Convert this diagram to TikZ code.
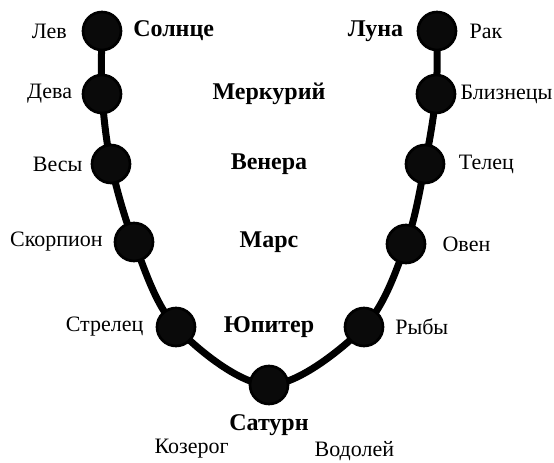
\documentclass[tikz,border=0pt]{standalone}
\usepackage{fontspec}
\setmainfont{Liberation Serif}
\usetikzlibrary{positioning, backgrounds}

\begin{document}
\begin{tikzpicture}[x=0.75pt, y=-0.75pt, font=\fontsize{16.5}{19}\selectfont,
    body/.style={circle, draw=black, line width=2pt, fill=black!96, minimum size=28.5pt, inner sep=0pt},
    sign/.style={inner sep=1pt},
    ruler/.style={inner sep=1pt, font=\fontsize{18}{21}\selectfont\bfseries}]
    \useasboundingbox (0,0) rectangle (554,463);

    % bodies along the chain
    \node[body] (lev) at (102,31) {};
    \node[body] (deva) at (102,94) {};
    \node[body] (vesy) at (111,164) {};
    \node[body] (skorp) at (134,242) {};
    \node[body] (strel) at (176,327) {};
    \node[body] (sat) at (269,385) {};
    \node[body] (ryby) at (364,327) {};
    \node[body] (oven) at (406,244) {};
    \node[body] (telec) at (425,164) {};
    \node[body] (bliz) at (436,94) {};
    \node[body] (rak) at (437,31) {};

    \begin{scope}[on background layer]
        \draw[line width=5.25pt] plot[smooth, tension=0.55] coordinates {(lev) (deva) (vesy) (skorp) (strel) (sat) (ryby) (oven) (telec) (bliz) (rak)};
    \end{scope}

    % signs
    \node[sign, left=10pt of lev] (tLev) {Лев};
    \node[sign, left=6pt of deva] (tDeva) {Дева};
    \node[sign, left=5pt of vesy] (tVesy) {Весы};
    \node[sign, left=7pt of skorp] (tSkorp) {Скорпион};
    \node[sign, left=8pt of strel] (tStrel) {Стрелец};
    \node[sign, right=8pt of rak] (tRak) {Рак};
    \node[sign, right=2pt of bliz] (tBliz) {Близнецы};
    \node[sign, right=9pt of telec] (tTelec) {Телец};
    \node[sign, right=11pt of oven] (tOven) {Овен};
    \node[sign, right=7pt of ryby] (tRyby) {Рыбы};

    % rulers
    \node[ruler, right=7pt of lev] (tSun) {Солнце};
    \node[ruler, left=9pt of rak] (tMoon) {Луна};
    \node[ruler] (tMerc) at (deva -| sat) {Меркурий};
    \node[ruler] (tVen) at (vesy -| sat) {Венера};
    \node[ruler] (tMars) at (skorp -| sat) {Марс};
    \node[ruler] (tJup) at (strel -| sat) {Юпитер};
    \node[ruler, below=6pt of sat] (tSat) {Сатурн};
    \node[sign, below=0pt of tSat, xshift=-58pt] (tKoz) {Козерог};
    \node[sign, below=1.5pt of tSat, xshift=64pt] (tVod) {Водолей};
\end{tikzpicture}
\end{document}
